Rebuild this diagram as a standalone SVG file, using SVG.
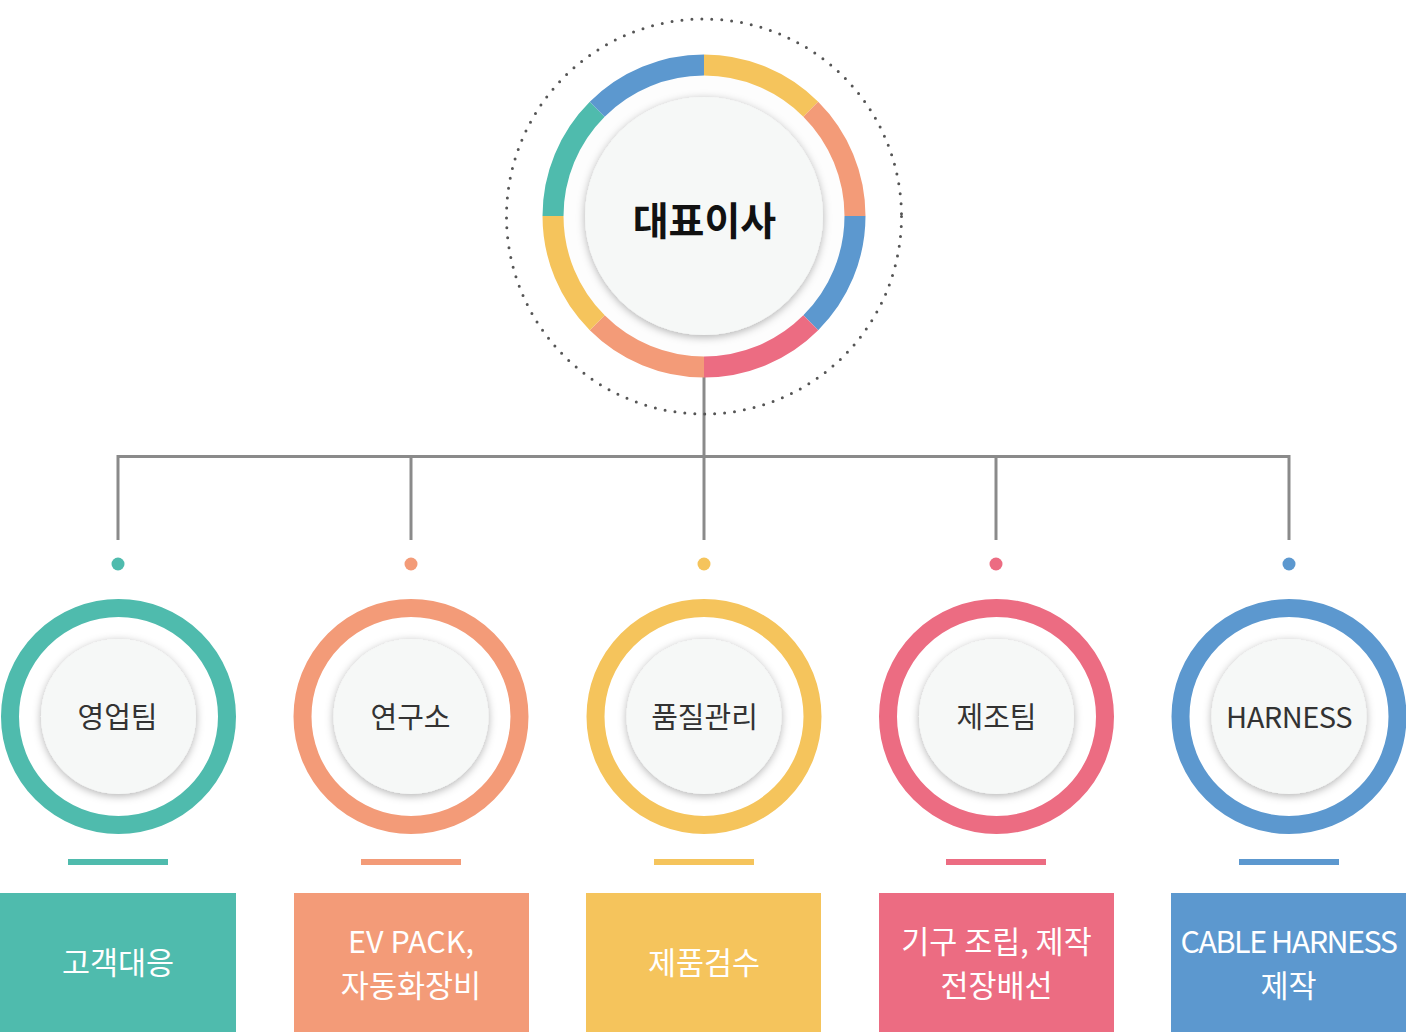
<svg xmlns="http://www.w3.org/2000/svg" width="1406" height="1032" viewBox="0 0 1406 1032">
<style>
.conn{stroke:#8a8a8a;stroke-width:3;fill:none}
.inner{fill:#f6f8f7;filter:url(#sh)}
.gap{fill:#fdfdfd}
.lbl{font-family:"Noto Sans CJK KR","Noto Sans",sans-serif;font-size:29px;fill:#333;text-anchor:middle;dominant-baseline:central}
.box{font-family:"Noto Sans CJK KR","Noto Sans",sans-serif;font-size:30.5px;fill:#fff;text-anchor:middle;dominant-baseline:central}
.ceo{font-family:"Noto Sans CJK KR","Noto Sans",sans-serif;font-size:39px;font-weight:bold;fill:#111;text-anchor:middle;dominant-baseline:central}
.seg{fill:none;stroke-width:21}
.ring{fill:none;stroke-width:18}
</style>
<defs>
<filter id="sh" x="-30%" y="-30%" width="160%" height="160%">
<feDropShadow dx="0" dy="2" stdDeviation="4" flood-color="#000" flood-opacity="0.3"/>
</filter>
</defs>
<rect width="1406" height="1032" fill="#fff"/>

<g id="connectors">
<line class="conn" x1="704" y1="376" x2="704" y2="540"/>
<polyline class="conn" points="118,540 118,456.5 1289,456.5 1289,540"/>
<line class="conn" x1="411" y1="456" x2="411" y2="540"/>
<line class="conn" x1="996" y1="456" x2="996" y2="540"/>
</g>

<g id="ceo">
<circle cx="704" cy="216.5" r="197.5" fill="none" stroke="#555" stroke-width="3" stroke-linecap="round" stroke-dasharray="0 9.98"/>
<circle class="gap" cx="704" cy="216" r="141"/>
<path class="seg" stroke="#f5c45c" d="M704 65 A151 151 0 0 1 810.77 109.23"/>
<path class="seg" stroke="#f39b78" d="M810.77 109.23 A151 151 0 0 1 855 216"/>
<path class="seg" stroke="#5c98cf" d="M855 216 A151 151 0 0 1 810.77 322.77"/>
<path class="seg" stroke="#ec6c82" d="M810.77 322.77 A151 151 0 0 1 704 367"/>
<path class="seg" stroke="#f39b78" d="M704 367 A151 151 0 0 1 597.23 322.77"/>
<path class="seg" stroke="#f5c45c" d="M597.23 322.77 A151 151 0 0 1 553 216"/>
<path class="seg" stroke="#4fbbad" d="M553 216 A151 151 0 0 1 597.23 109.23"/>
<path class="seg" stroke="#5c98cf" d="M597.23 109.23 A151 151 0 0 1 704 65"/>
<circle class="inner" cx="704" cy="216" r="119"/>
<text class="ceo" x="704.5" y="218">대표이사</text>
</g>

<g id="sales">
<circle cx="118" cy="564" r="6.5" fill="#4fbbad"/>
<circle class="ring" cx="118.5" cy="716.5" r="108.5" stroke="#4fbbad"/>
<circle class="inner" cx="118.5" cy="716.5" r="77.5"/>
<text class="lbl" x="117.5" y="714.5">영업팀</text>
<rect x="68" y="859" width="100" height="6" fill="#4fbbad"/>
<rect x="0" y="893" width="236" height="139" fill="#4fbbad"/>
<text class="box" x="118" y="961">고객대응</text>
</g>

<g id="lab">
<circle cx="411" cy="564" r="6.5" fill="#f39b78"/>
<circle class="ring" cx="411" cy="716.5" r="108.5" stroke="#f39b78"/>
<circle class="inner" cx="411" cy="716.5" r="77.5"/>
<text class="lbl" x="410.5" y="714.5">연구소</text>
<rect x="361" y="859" width="100" height="6" fill="#f39b78"/>
<rect x="294" y="893" width="235" height="139" fill="#f39b78"/>
<text class="box" x="411" y="940">EV PACK,</text>
<text class="box" x="411" y="984">자동화장비</text>
</g>

<g id="qa">
<circle cx="704" cy="564" r="6.5" fill="#f5c45c"/>
<circle class="ring" cx="704" cy="716.5" r="108.5" stroke="#f5c45c"/>
<circle class="inner" cx="704" cy="716.5" r="77.5"/>
<text class="lbl" x="704.5" y="714.5">품질관리</text>
<rect x="654" y="859" width="100" height="6" fill="#f5c45c"/>
<rect x="586" y="893" width="235" height="139" fill="#f5c45c"/>
<text class="box" x="704" y="961">제품검수</text>
</g>

<g id="mfg">
<circle cx="996" cy="564" r="6.5" fill="#ec6c82"/>
<circle class="ring" cx="996.5" cy="716.5" r="108.5" stroke="#ec6c82"/>
<circle class="inner" cx="996.5" cy="716.5" r="77.5"/>
<text class="lbl" x="996.5" y="714.5">제조팀</text>
<rect x="946" y="859" width="100" height="6" fill="#ec6c82"/>
<rect x="879" y="893" width="235" height="139" fill="#ec6c82"/>
<text class="box" x="996.5" y="940">기구 조립, 제작</text>
<text class="box" x="996.5" y="984">전장배선</text>
</g>

<g id="harness">
<circle cx="1289" cy="564" r="6.5" fill="#5c98cf"/>
<circle class="ring" cx="1289" cy="716.5" r="108.5" stroke="#5c98cf"/>
<circle class="inner" cx="1289" cy="716.5" r="77.5"/>
<text class="lbl" x="1289" y="714.5" letter-spacing="-0.5">HARNESS</text>
<rect x="1239" y="859" width="100" height="6" fill="#5c98cf"/>
<rect x="1171" y="893" width="235" height="139" fill="#5c98cf"/>
<text class="box" x="1288.5" y="940" letter-spacing="-1.5">CABLE HARNESS</text>
<text class="box" x="1288.5" y="984">제작</text>
</g>
</svg>
